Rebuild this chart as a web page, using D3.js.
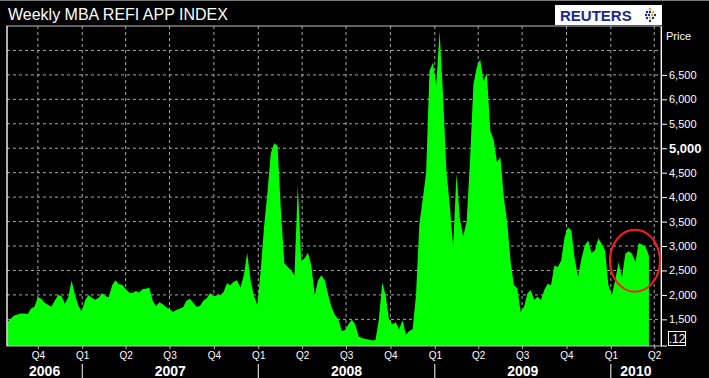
<!DOCTYPE html>
<html>
<head>
<meta charset="utf-8">
<script src="https://cdn.jsdelivr.net/npm/d3@7"></script>
<style>
  body { margin: 0; background: #000; }
  svg { display: block; }
</style>
</head>
<body>
<script>
// Weekly MBA refi index, one value per week starting at startWeek
const startWeek = "2006-07-30";
const refiValues = [
  1450, 1520, 1580, 1600, 1620, 1620, 1610, 1720, 1760, 1950,
  1920, 1840, 1800, 1760, 1880, 2000, 1980, 1820, 1950, 2300,
  2000, 1780, 1660, 1890, 2000, 1940, 1900, 1940, 2040, 1980,
  1950, 2200, 2300, 2220, 2210, 2120, 2050, 2040, 2080, 2050,
  2120, 2125, 2150, 1880, 1770, 1850, 1810, 1750, 1710, 1650,
  1690, 1715, 1750, 1880, 1920, 1840, 1760, 1775, 1880, 1930,
  2040, 1965, 1995, 1995, 2060, 2240, 2200, 2270, 2300, 2150,
  2400, 2860, 2300, 1980, 1800, 2500, 3400, 4100, 4900, 5100,
  5050, 3700, 2650, 2575, 2500, 2400, 4250, 2690, 2750, 2860,
  2600, 2000, 2300, 2400, 2300, 2000, 1750, 1590, 1500, 1260,
  1280, 1400, 1490, 1400, 1150, 1120, 1100, 1090, 1065, 1080,
  1500, 2250, 2000, 1500, 1400, 1440, 1300, 1480, 1190, 1260,
  1300, 2000, 3450, 3960, 4500, 6580, 6750, 6300, 7400, 6100,
  4550, 3835, 3000, 4480, 3560, 3200, 3500, 4750, 6300, 6650,
  6820, 6375, 6530, 5360, 5170, 4715, 4815, 4000, 3495, 2700,
  2200, 2140, 1650, 1760, 2030, 2100, 1900, 1960, 1895, 2100,
  2230, 2200, 2600, 2570, 2705, 3180, 3385, 3315, 2740, 2370,
  2740, 3010, 3115, 2855, 2910, 3160, 3045, 2910, 2200, 1995,
  2300, 2675, 2355, 2840, 2895, 2840, 2675, 3060, 3025, 2980,
  2800
];

// Axis labels and ticks
const priceTicks = [1500, 2000, 2500, 3000, 3500, 4000, 4500, 5000, 5500, 6000, 6500];
const gridPrices = [1500, 2000, 2500, 3000, 3500, 4000, 4500, 5000, 5500, 6000, 6500, 7000];
const quarterDates = ["2006-10-01", "2007-01-01", "2007-04-01", "2007-07-01", "2007-10-01",
  "2008-01-01", "2008-04-01", "2008-07-01", "2008-10-01", "2009-01-01", "2009-04-01",
  "2009-07-01", "2009-10-01", "2010-01-01", "2010-04-01"];
const quarterLabels = ["Q4", "Q1", "Q2", "Q3", "Q4", "Q1", "Q2", "Q3", "Q4", "Q1", "Q2", "Q3", "Q4", "Q1", "Q2"];
const yearLabels = ["2006", "2007", "2008", "2009", "2010"];
const yearStarts = ["2006-07-29", "2007-01-01", "2008-01-01", "2009-01-01", "2010-01-01", "2010-04-15"];

// Circled area (late Q1 2010)
const circled = { date: "2010-02-20", value: 2700 };

// Set margins and dimensions
const width = 709;
const height = 378;
const margin = { top: 26, right: 48, bottom: 32, left: 7 };

const parse = d3.timeParse("%Y-%m-%d");

const svg = d3.select("body")
  .append("svg")
  .attr("width", width)
  .attr("height", height)
  .style("font-family", "'Liberation Sans', Arial, sans-serif");

svg.append("rect")
  .attr("width", width)
  .attr("height", height)
  .attr("fill", "#000");

// thin grey line on top of the image
svg.append("rect")
  .attr("width", width)
  .attr("height", 1)
  .attr("fill", "#7a7a7a");

// build the weekly series
const start = parse(startWeek);
const data = refiValues.map((v, i) => ({ date: d3.timeWeek.offset(start, i), value: v }));

// Scales
const x = d3.scaleTime()
  .domain([parse(yearStarts[0]), parse(yearStarts[yearStarts.length - 1])])
  .range([margin.left, width - margin.right]);

const y = d3.scaleLinear()
  .domain([955, 7500])
  .range([height - margin.bottom, margin.top]);

// Gridlines (behind the area)
svg.append("g")
  .selectAll("line")
  .data(gridPrices)
  .enter()
  .append("line")
  .attr("x1", margin.left)
  .attr("x2", width - margin.right)
  .attr("y1", d => y(d))
  .attr("y2", d => y(d))
  .attr("stroke", "#a8a8a8")
  .attr("stroke-dasharray", "3,3");

svg.append("g")
  .selectAll("line")
  .data(quarterDates)
  .enter()
  .append("line")
  .attr("x1", d => x(parse(d)))
  .attr("x2", d => x(parse(d)))
  .attr("y1", margin.top)
  .attr("y2", height - margin.bottom)
  .attr("stroke", "#a8a8a8")
  .attr("stroke-dasharray", "3,3");

// Area
const area = d3.area()
  .x(d => x(d.date))
  .y0(y.range()[0])
  .y1(d => y(d.value));

svg.append("path")
  .datum(data)
  .attr("d", area)
  .attr("fill", "#00ff00");

// Frame
svg.append("rect")
  .attr("x", margin.left)
  .attr("y", margin.top)
  .attr("width", width - margin.left - margin.right)
  .attr("height", height - margin.top - margin.bottom)
  .attr("fill", "none")
  .attr("stroke", "#c0c0c0");

svg.append("line")
  .attr("x1", margin.left).attr("x2", margin.left)
  .attr("y1", margin.top).attr("y2", height - margin.bottom)
  .attr("stroke", "#fff");

// Right axis
const yAxis = svg.append("g")
  .attr("transform", `translate(${width - margin.right},0)`)
  .call(d3.axisRight(y).tickValues(priceTicks).tickFormat(d3.format(",")).tickSize(6).tickSizeOuter(0))
  .attr("font-size", "11px")
  .attr("font-family", null);

yAxis.select(".domain").attr("stroke", "#fff");
yAxis.selectAll(".tick line").attr("stroke", "#fff");
yAxis.selectAll(".tick text").attr("fill", "#fff").attr("x", 8);
yAxis.selectAll(".tick text")
  .filter(d => d === 5000)
  .attr("font-size", "13px")
  .attr("font-weight", "bold");

// bottom tick of the price axis
svg.append("line")
  .attr("x1", width - margin.right).attr("x2", width - margin.right + 6)
  .attr("y1", y.range()[0]).attr("y2", y.range()[0])
  .attr("stroke", "#fff");

svg.append("text")
  .attr("x", width - margin.right + 5)
  .attr("y", margin.top + 14)
  .attr("fill", "#fff")
  .attr("font-size", "11px")
  .text("Price");

// little ".12" box at the bottom of the price axis
svg.append("rect")
  .attr("x", width - margin.right + 7.5)
  .attr("y", y.range()[0] - 14.5)
  .attr("width", 17)
  .attr("height", 14)
  .attr("fill", "#000")
  .attr("stroke", "#fff");

svg.append("text")
  .attr("x", width - margin.right + 16)
  .attr("y", y.range()[0] - 3)
  .attr("text-anchor", "middle")
  .attr("fill", "#fff")
  .attr("font-size", "12px")
  .text(".12");

// Bottom axis with quarters
const xAxis = svg.append("g")
  .attr("transform", `translate(0,${height - margin.bottom})`)
  .call(d3.axisBottom(x)
    .tickValues(quarterDates.map(parse))
    .tickFormat((d, i) => quarterLabels[i])
    .tickSize(3)
    .tickPadding(3))
  .attr("font-size", "10px")
  .attr("font-family", null);

xAxis.select(".domain").remove();
xAxis.selectAll(".tick line").attr("stroke", "#bbb");
xAxis.selectAll(".tick text").attr("fill", "#fff");

// Year labels centred in the visible part of each year
svg.append("g")
  .selectAll("text")
  .data(yearLabels)
  .enter()
  .append("text")
  .attr("x", (d, i) => (x(parse(yearStarts[i])) + x(parse(yearStarts[i + 1]))) / 2)
  .attr("y", height - 2)
  .attr("text-anchor", "middle")
  .attr("fill", "#fff")
  .attr("font-size", "14px")
  .attr("font-weight", "bold")
  .text(d => d);

svg.append("g")
  .selectAll("line")
  .data(yearStarts.slice(1, -1))
  .enter()
  .append("line")
  .attr("x1", d => x(parse(d)))
  .attr("x2", d => x(parse(d)))
  .attr("y1", height - 14)
  .attr("y2", height)
  .attr("stroke", "#fff");

// Red circle around the 2010 rebound
svg.append("ellipse")
  .attr("cx", x(parse(circled.date)))
  .attr("cy", y(circled.value))
  .attr("rx", 25)
  .attr("ry", 31)
  .attr("fill", "none")
  .attr("stroke", "#ff1a1a")
  .attr("stroke-width", 2);

// Title
svg.append("text")
  .attr("x", 8)
  .attr("y", 20)
  .attr("fill", "#fff")
  .attr("font-size", "16px")
  .text("Weekly MBA REFI APP INDEX");

// Reuters logo
const logo = svg.append("g").attr("transform", "translate(555,5)");
logo.append("rect")
  .attr("width", 107)
  .attr("height", 20)
  .attr("fill", "#fff");
logo.append("text")
  .attr("x", 5)
  .attr("y", 16)
  .attr("fill", "#1b2a8a")
  .attr("font-size", "15px")
  .attr("font-weight", "bold")
  .text("REUTERS");
const dots = [[0, -6], [-3, -3], [0, -3], [3, -3], [-4, 0], [-1, 0], [2, 0], [5, 0], [-3, 3], [0, 3], [3, 3], [0, 6]];
logo.selectAll("circle")
  .data(dots)
  .enter()
  .append("circle")
  .attr("cx", d => 95 + d[0])
  .attr("cy", d => 10 + d[1])
  .attr("r", 1.2)
  .attr("fill", (d, i) => (i % 3 === 0 ? "#f0a020" : "#1b2a8a"));
</script>
</body>
</html>
